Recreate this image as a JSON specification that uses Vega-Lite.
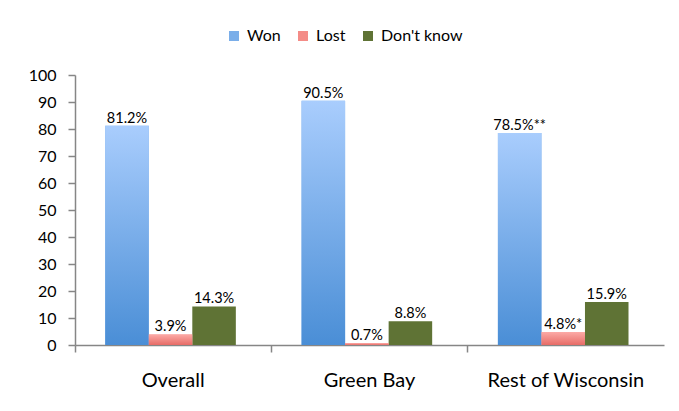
{
  "$schema": "https://vega.github.io/schema/vega-lite/v6.json",
  "width": 589,
  "height": 270,
  "autosize": {"type": "none"},
  "padding": {"left": 75, "top": 75, "right": 15, "bottom": 66},
  "background": "white",
  "config": {
    "view": {"stroke": null},
    "font": "Lato",
    "text": {"font": "Lato"}
  },
  "data": {
    "values": [
      {"region": "Overall", "series": "Won", "value": 81.2, "label": "81.2%"},
      {"region": "Overall", "series": "Lost", "value": 3.9, "label": "3.9%"},
      {"region": "Overall", "series": "Don't know", "value": 14.3, "label": "14.3%"},
      {"region": "Green Bay", "series": "Won", "value": 90.5, "label": "90.5%"},
      {"region": "Green Bay", "series": "Lost", "value": 0.7, "label": "0.7%"},
      {"region": "Green Bay", "series": "Don't know", "value": 8.8, "label": "8.8%"},
      {"region": "Rest of Wisconsin", "series": "Won", "value": 78.5, "label": "78.5%**"},
      {"region": "Rest of Wisconsin", "series": "Lost", "value": 4.8, "label": "4.8%*"},
      {"region": "Rest of Wisconsin", "series": "Don't know", "value": 15.9, "label": "15.9%"}
    ]
  },
  "encoding": {
    "x": {
      "field": "region",
      "type": "nominal",
      "sort": ["Overall", "Green Bay", "Rest of Wisconsin"],
      "scale": {"paddingInner": 0, "paddingOuter": 0},
      "axis": {
        "title": null,
        "labelAngle": 0,
        "labelFont": "Lato",
        "labelFontSize": 20,
        "labelColor": "#000000",
        "labelPadding": 18,
        "bandPosition": 0,
        "tickSize": 7,
        "tickColor": "#868686",
        "domainColor": "#868686",
        "tickWidth": 1.5,
        "domainWidth": 1.5
      }
    },
    "xOffset": {
      "field": "series",
      "type": "nominal",
      "sort": ["Won", "Lost", "Don't know"],
      "scale": {"domain": ["Won", "Lost", "Don't know"], "paddingInner": 0, "paddingOuter": 0.755, "align": 0.46}
    },
    "y": {
      "field": "value",
      "type": "quantitative",
      "scale": {"domain": [0, 100], "nice": false},
      "axis": {
        "title": null,
        "values": [0, 10, 20, 30, 40, 50, 60, 70, 80, 90, 100],
        "grid": false,
        "labelFont": "Lato",
        "labelFontSize": 16,
        "labelColor": "#000000",
        "labelPadding": 12,
        "tickSize": 7,
        "tickColor": "#868686",
        "domainColor": "#868686",
        "tickWidth": 1.5,
        "domainWidth": 1.5
      }
    }
  },
  "layer": [
    {
      "mark": {"type": "bar"},
      "encoding": {
        "color": {
          "field": "series",
          "type": "nominal",
          "sort": ["Won", "Lost", "Don't know"],
          "scale": {
            "domain": ["Won", "Lost", "Don't know"],
            "range": ["#7aaee9", "#f48c87", "#5f7335"]
          },
          "legend": {
            "title": null,
            "orient": "none",
            "direction": "horizontal",
            "legendX": 151,
            "legendY": -47,
            "symbolType": "square",
            "symbolSize": 100,
            "symbolStrokeWidth": 0,
            "labelFont": "Lato",
            "labelFontSize": 16,
            "labelColor": "#000000",
            "columnPadding": 14,
            "labelOffset": 5
          }
        }
      }
    },
    {
      "transform": [{"filter": "datum.series === 'Won'"}],
      "mark": {
        "type": "bar",
        "fill": {"gradient": "linear", "x1": 0, "y1": 0, "x2": 0, "y2": 1, "stops": [{"offset": 0, "color": "#a9cdfd"}, {"offset": 1, "color": "#4a8ed6"}]}
      },
      "encoding": {}
    },
    {
      "transform": [{"filter": "datum.series === 'Lost'"}],
      "mark": {
        "type": "bar",
        "fill": {"gradient": "linear", "x1": 0, "y1": 0, "x2": 0, "y2": 1, "stops": [{"offset": 0, "color": "#fcaaa6"}, {"offset": 1, "color": "#e76c67"}]}
      },
      "encoding": {}
    },
    {
      "mark": {"type": "text", "baseline": "bottom", "dy": 0, "fontSize": 14.5, "font": "Lato", "color": "#000000"},
      "encoding": {
        "text": {"field": "label", "type": "nominal"}
      }
    }
  ]
}
